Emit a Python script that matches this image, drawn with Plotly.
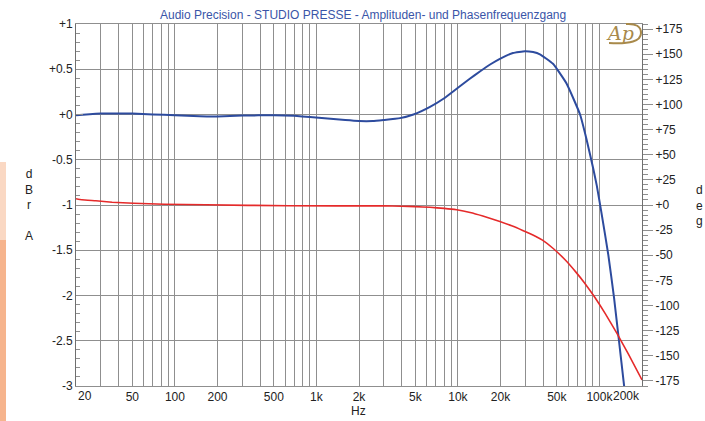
import numpy as np
import plotly.graph_objects as go

# ---- measurement data ----
# amplitude response (dBr A), left axis
amp_freq = [20, 25, 30, 50, 70, 100, 150, 200, 300, 500, 700, 900, 1200, 1600,
            2000, 2500, 3000, 3900, 4850, 6350, 8000, 9800, 12000, 14300, 17000,
            19800, 24500, 29800, 34000, 38000, 47000, 58700, 73000, 81000, 90500,
            95700, 103000, 115600, 126800, 137500, 149000, 160000]
amp_db = [-0.008, 0.004, 0.010, 0.010, 0.0, -0.008, -0.020, -0.022, -0.012, -0.008,
          -0.015, -0.028, -0.045, -0.062, -0.072, -0.072, -0.060, -0.040, 0.0, 0.085,
          0.18, 0.285, 0.39, 0.475, 0.555, 0.615, 0.68, 0.70, 0.69, 0.665, 0.56, 0.34,
          0.0, -0.27, -0.60, -0.78, -1.07, -1.55, -2.02, -2.5, -2.98, -3.4]

# phase response (deg), right axis
phase_freq = [20, 22, 27.6, 36, 51, 84, 165, 640, 3000, 4000, 5000, 6350, 8000,
              9800, 12200, 15000, 19800, 24000, 28700, 35000, 39600, 47400, 57200,
              68000, 79000, 93000, 110000, 134000, 160000, 200000]
phase_deg = [6.2, 5.2, 4.2, 2.8, 1.8, 0.8, 0.2, -0.8, -0.9, -1.2, -1.6, -2.3, -3.4,
             -4.8, -7.4, -10.9, -16.4, -20.7, -25.3, -30.8, -35.0, -43.5, -54.5,
             -66.5, -78.0, -92.0, -108.0, -128.5, -148.0, -174.0]

# axis ticks
x_grid = [20, 30, 40, 50, 60, 70, 80, 90, 100, 200, 300, 400, 500, 600, 700, 800, 900,
          1000, 2000, 3000, 4000, 5000, 6000, 7000, 8000, 9000, 10000, 20000, 30000,
          40000, 50000, 60000, 70000, 80000, 90000, 100000, 200000]
x_labels = {50: "50", 100: "100", 200: "200", 500: "500", 1000: "1k", 2000: "2k",
            5000: "5k", 10000: "10k", 20000: "20k", 50000: "50k", 100000: "100k"}
left_ticks = [1, 0.5, 0, -0.5, -1, -1.5, -2, -2.5, -3]
left_text = ["+1", "+0.5", "+0", "-0.5", "-1", "-1.5", "-2", "-2.5", "-3"]
right_ticks = list(range(175, -176, -25))
right_text = [("+%d" % v) if v >= 0 else str(v) for v in right_ticks]

# ---- layout geometry (pixels) ----
W, H = 705, 421
L, R, T, B = 76, 63, 24, 35
PW, PH = W - L - R, H - T - B


def px(x):
    return (x - L) / PW


def py(y):
    return (H - B - y) / PH


GRID = "#8f8f8f"
TXT = "#222222"
FONT = "Liberation Sans, Arial, sans-serif"
GOLD = "#a8894a"

fig = go.Figure()

fig.add_trace(go.Scatter(
    x=amp_freq, y=amp_db, mode="lines",
    line=dict(color="#2d4b9e", width=2, shape="spline", smoothing=0.4),
    yaxis="y", showlegend=False, hoverinfo="skip"))

fig.add_trace(go.Scatter(
    x=phase_freq, y=phase_deg, mode="lines",
    line=dict(color="#e52a2a", width=1.6, shape="spline", smoothing=0.4),
    yaxis="y2", showlegend=False, hoverinfo="skip"))

fig.update_layout(
    width=W, height=H,
    margin=dict(l=L, r=R, t=T, b=B, pad=0),
    paper_bgcolor="white", plot_bgcolor="white",
    font=dict(family=FONT, size=12, color=TXT),
    xaxis=dict(
        type="log", range=[np.log10(20), np.log10(200000)],
        tickmode="array", tickvals=x_grid,
        ticktext=[x_labels.get(v, "") for v in x_grid],
        showgrid=True, gridcolor=GRID, gridwidth=1,
        ticks="", showline=True, linecolor=GRID, linewidth=1, mirror=True,
        zeroline=False, tickfont=dict(size=12, color=TXT),
    ),
    yaxis=dict(
        range=[-3, 1], tickmode="array", tickvals=left_ticks, ticktext=left_text,
        showgrid=True, gridcolor=GRID, gridwidth=1, zeroline=False,
        showline=True, linecolor="#6f6f6f", linewidth=1, mirror=True,
        ticks="inside", ticklen=7, tickcolor=GRID,
        minor=dict(dtick=0.1, ticks="inside", ticklen=4, tickcolor=GRID, showgrid=False),
        tickfont=dict(size=12, color=TXT),
    ),
    yaxis2=dict(
        range=[-180, 180], overlaying="y", side="right",
        tickmode="array", tickvals=right_ticks, ticktext=right_text,
        showgrid=False, zeroline=False, showline=False,
        ticks="outside", ticklen=10, tickcolor=GRID,
        minor=dict(dtick=5, ticks="outside", ticklen=5, tickcolor=GRID, showgrid=False),
        tickfont=dict(size=12, color=TXT),
    ),
)

ann = [
    # title
    dict(text="Audio Precision - STUDIO PRESSE - Amplituden- und Phasenfrequenzgang",
         x=px(363), y=py(15), xanchor="center", yanchor="middle",
         font=dict(size=12, color="#3a55a8")),
    # axis titles
    dict(text="Hz", x=px(358), y=py(411), xanchor="center", yanchor="middle",
         font=dict(size=12, color=TXT)),
    dict(text="d<br>B<br>r<br> <br>A", x=px(29), y=py(204.5), xanchor="center",
         yanchor="middle", font=dict(size=12, color=TXT)),
    dict(text="d<br>e<br>g", x=px(699), y=py(205.5), xanchor="center",
         yanchor="middle", font=dict(size=12, color=TXT)),
    # logo
    dict(text="<i>Ap</i>", x=px(620), y=py(33), xanchor="center",
         yanchor="middle", font=dict(family="DejaVu Serif", size=19, color=GOLD)),
]
for ax in ann:
    ax.update(xref="paper", yref="paper", showarrow=False)

# edge tick labels of the frequency axis, kept inside the plot width
ann.append(dict(text="20", x=np.log10(20), xref="x", y=py(396), yref="paper",
                xanchor="left", yanchor="middle", showarrow=False,
                font=dict(size=12, color=TXT)))
ann.append(dict(text="200k", x=np.log10(200000), xref="x", y=py(396), yref="paper",
                xanchor="right", yanchor="middle", showarrow=False,
                font=dict(size=12, color=TXT)))
fig.update_layout(annotations=ann)

shapes = [
    # side strip
    dict(type="rect", xref="paper", yref="paper", x0=px(0), x1=px(6),
         y0=py(162), y1=py(240), fillcolor="#fad8c3", line=dict(width=0)),
    dict(type="rect", xref="paper", yref="paper", x0=px(0), x1=px(6),
         y0=py(240), y1=py(421), fillcolor="#f6b48d", line=dict(width=0)),
    # logo swoosh
    dict(type="path", xref="paper", yref="paper",
         path="M %f,%f Q %f,%f %f,%f Q %f,%f %f,%f" % (
             px(609), py(43), px(641), py(45), px(641), py(33),
             px(641), py(23), px(626), py(24)),
         line=dict(color=GOLD, width=2)),
]
fig.update_layout(shapes=shapes)

fig.write_html("out.html")
